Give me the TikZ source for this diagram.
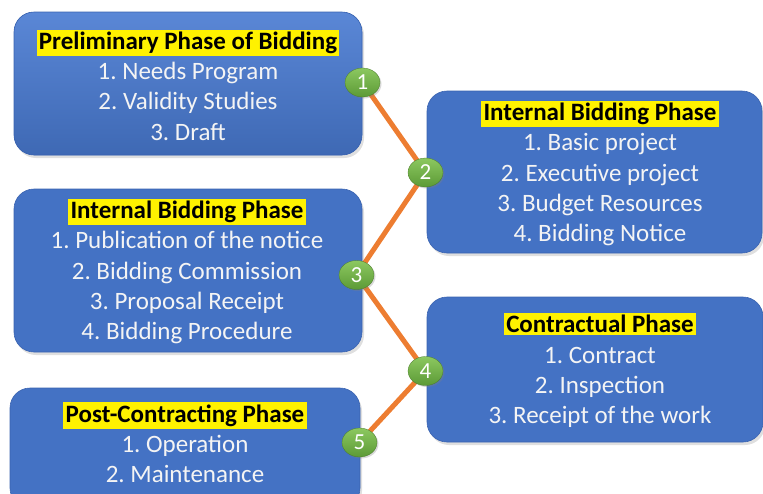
\documentclass[tikz,border=0pt]{standalone}
\usepackage{fontspec}
\setmainfont{Carlito}
\usetikzlibrary{shadows,shapes.geometric}
\definecolor{boxblue}{HTML}{4472C4}
\definecolor{boxtop}{HTML}{5A87D6}
\definecolor{boxedge}{HTML}{3A63B0}
\definecolor{lineor}{HTML}{ED7D31}
\definecolor{greentop}{HTML}{8CC860}
\definecolor{greenbot}{HTML}{5C9A36}
\definecolor{txtwhite}{HTML}{F4F4F4}
\pgfdeclarelayer{bg}
\pgfdeclarelayer{lines}
\pgfsetlayers{bg,lines,main}
\setlength{\fboxsep}{2.3pt}
\frenchspacing
\newcommand{\phasetitle}[1]{\colorbox{yellow}{\textcolor{black}{\bfseries #1}}}
\tikzset{
  phasebox/.style={draw=boxedge, line width=0.6pt, fill=boxblue, rounded corners=20pt,
    drop shadow={opacity=0.25, shadow xshift=2pt, shadow yshift=-3pt}},
  phasetext/.style={text=txtwhite, align=center, font=\fontsize{25}{30.3}\selectfont, inner sep=0pt},
  stepdot/.style={ellipse, minimum width=35pt, minimum height=29pt, inner sep=0pt, shading=axis, top color=greentop,
    bottom color=greenbot, draw=greenbot!80!black, line width=0.3pt, text=white,
    font=\fontsize{23}{24}\selectfont,
    drop shadow={opacity=0.3, shadow xshift=1.5pt, shadow yshift=-1.5pt}},
  link/.style={draw=lineor, line width=5pt}
}
\begin{document}
\begin{tikzpicture}[x=1pt, y=-1pt]
\useasboundingbox (0,0) rectangle (763,493);
\begin{pgfonlayer}{bg}
\node[phasebox, minimum width=348pt, minimum height=143pt, top color=boxtop, bottom color=boxblue!92!black] (b1) at (188,83.5) {};
\node[phasebox, minimum width=335pt, minimum height=162pt] (b2) at (594.5,172) {};
\node[phasebox, minimum width=348pt, minimum height=163pt] (b3) at (188,270.5) {};
\node[phasebox, minimum width=336pt, minimum height=145pt] (b4) at (595,369.5) {};
\node[phasebox, minimum width=350pt, minimum height=120pt] (b5) at (185,448) {};
\end{pgfonlayer}
\node[phasetext] (t1) at (188,85) {\phasetitle{Preliminary Phase of Bidding}\\1. Needs Program\\2. Validity Studies\\3. Draft};
\node[phasetext] (t2) at (600,173.5) {\phasetitle{Internal Bidding Phase}\\1. Basic project\\2. Executive project\\3. Budget Resources\\4. Bidding Notice};
\node[phasetext] (t3) at (187,271.5) {\phasetitle{Internal Bidding Phase}\\1. Publication of the notice\\2. Bidding Commission\\3. Proposal Receipt\\4. Bidding Procedure};
\node[phasetext] (t4) at (600,370.5) {\phasetitle{Contractual Phase}\\1. Contract\\2. Inspection\\3. Receipt of the work};
\node[phasetext] (t5) at (185,442.5) {\phasetitle{Post-Contracting Phase}\\1. Operation\\2. Maintenance};
\node[stepdot] (s1) at (362.5,82.5) {1};
\node[stepdot] (s2) at (425.5,172.5) {2};
\node[stepdot] (s3) at (356.5,275) {3};
\node[stepdot] (s4) at (425.5,371) {4};
\node[stepdot] (s5) at (359.5,442.5) {5};
\begin{pgfonlayer}{lines}
\draw[link] (s1.center) -- (s2.center) -- (s3.center) -- (s4.center) -- (s5.center);
\end{pgfonlayer}
\end{tikzpicture}
\end{document}
